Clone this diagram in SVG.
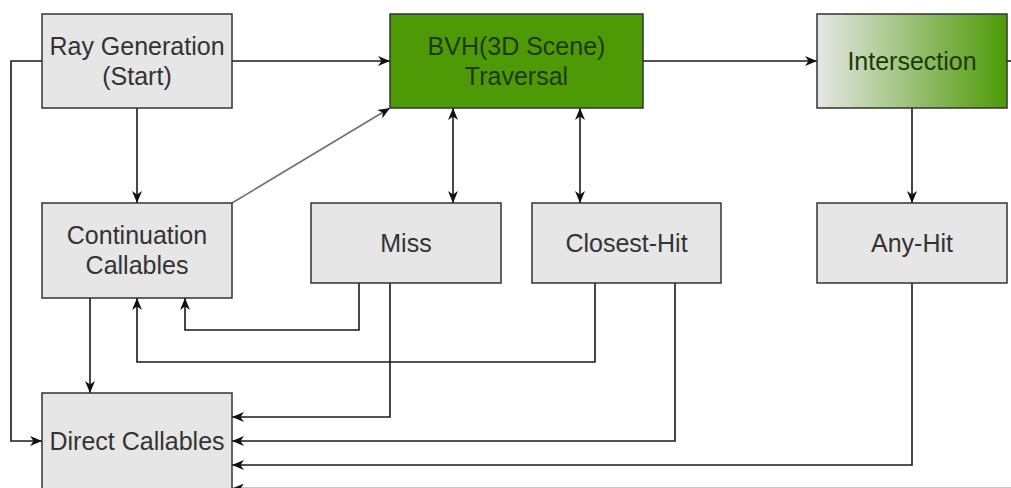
<svg xmlns="http://www.w3.org/2000/svg" width="1011" height="488" viewBox="0 0 1011 488">
  <defs>
    <linearGradient id="intersectGrad" x1="0" y1="0" x2="1" y2="0">
      <stop offset="0" stop-color="#e6e6e6"/>
      <stop offset="1" stop-color="#4e9a06"/>
    </linearGradient>
    <marker id="arrow" viewBox="0 0 12 10" refX="12" refY="5" markerWidth="12" markerHeight="10" markerUnits="userSpaceOnUse" orient="auto-start-reverse">
      <path d="M0,0 L12,5 L0,10 L3.5,5 z" fill="#111111"/>
    </marker>
  </defs>
  <style>
    .box { fill: #e6e6e6; stroke: #333333; stroke-width: 1.5; }
    .green { fill: #4e9a06; stroke: #333333; stroke-width: 1.5; }
    .grad { fill: url(#intersectGrad); stroke: #333333; stroke-width: 1.5; }
    .label { font-family: "Liberation Sans", Arial, sans-serif; font-size: 25px; fill: #333333; text-anchor: middle; }
    .dark { fill: #1d3a05; }
    .edge { fill: none; stroke: #1a1a1a; stroke-width: 1.6; }
    .soft { stroke: #707070; }
  </style>

  <rect width="1011" height="488" fill="#ffffff"/>

  <g id="connectors">
    <path class="edge" d="M232,61 H390" marker-end="url(#arrow)"/>
    <path class="edge" d="M643,61 H817" marker-end="url(#arrow)"/>
    <path class="edge" d="M1007,61 H1011"/>
    <path class="edge" d="M42,61 H11 V441 H42" marker-end="url(#arrow)"/>
    <path class="edge" d="M137,108 V203" marker-end="url(#arrow)"/>
    <path class="edge soft" d="M232,203 L390,108" marker-end="url(#arrow)"/>
    <path class="edge" d="M453,108 V203" marker-start="url(#arrow)" marker-end="url(#arrow)"/>
    <path class="edge" d="M580,108 V203" marker-start="url(#arrow)" marker-end="url(#arrow)"/>
    <path class="edge" d="M912,108 V203" marker-end="url(#arrow)"/>
    <path class="edge" d="M359,283 V330 H185 V298" marker-end="url(#arrow)"/>
    <path class="edge" d="M595,283 V362 H137 V298" marker-end="url(#arrow)"/>
    <path class="edge" d="M390,283 V417 H232" marker-end="url(#arrow)"/>
    <path class="edge" d="M675,283 V441 H232" marker-end="url(#arrow)"/>
    <path class="edge" d="M912,283 V465 H232" marker-end="url(#arrow)"/>
    <path class="edge" d="M90,298 V393" marker-end="url(#arrow)"/>
    <path class="edge" d="M1011,488.5 H232" marker-end="url(#arrow)"/>
  </g>

  <g id="ray-generation">
    <rect class="box" x="42" y="14" width="190" height="94"/>
    <text class="label" x="137" y="55">Ray Generation</text>
    <text class="label" x="137" y="85">(Start)</text>
  </g>

  <g id="bvh-traversal">
    <rect class="green" x="390" y="14" width="253" height="94"/>
    <text class="label dark" x="516.5" y="55">BVH(3D Scene)</text>
    <text class="label dark" x="516.5" y="85">Traversal</text>
  </g>

  <g id="intersection">
    <rect class="grad" x="817" y="14" width="190" height="94"/>
    <text class="label dark" x="912" y="70">Intersection</text>
  </g>

  <g id="continuation-callables">
    <rect class="box" x="42" y="203" width="190" height="95"/>
    <text class="label" x="137" y="244">Continuation</text>
    <text class="label" x="137" y="274">Callables</text>
  </g>

  <g id="miss">
    <rect class="box" x="311" y="203" width="190" height="80"/>
    <text class="label" x="406" y="252">Miss</text>
  </g>

  <g id="closest-hit">
    <rect class="box" x="532" y="203" width="189" height="80"/>
    <text class="label" x="626.5" y="252">Closest-Hit</text>
  </g>

  <g id="any-hit">
    <rect class="box" x="817" y="203" width="190" height="80"/>
    <text class="label" x="912" y="252">Any-Hit</text>
  </g>

  <g id="direct-callables">
    <rect class="box" x="42" y="393" width="190" height="100"/>
    <text class="label" x="137" y="450">Direct Callables</text>
  </g>
</svg>
